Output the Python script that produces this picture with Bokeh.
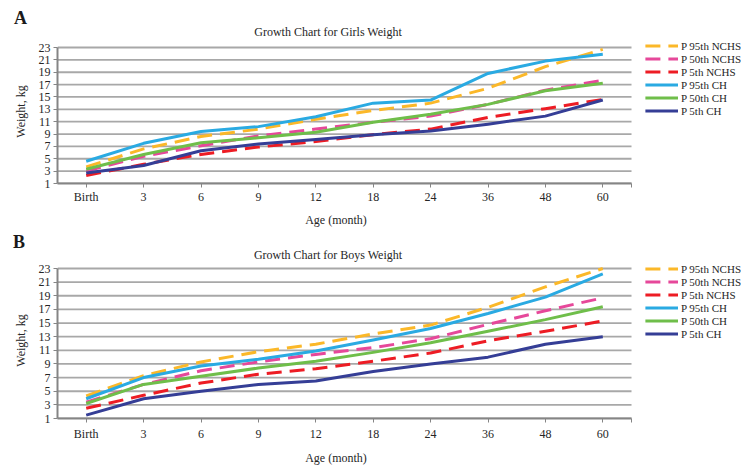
from bokeh.plotting import figure
from bokeh.layouts import column
from bokeh.models import (Legend, LegendItem, FixedTicker, Range1d, ColumnDataSource, Div)
from bokeh.embed import file_html
from bokeh.resources import INLINE

months = ["Birth", "3", "6", "9", "12", "18", "24", "36", "48", "60"]
y_ticks = [1, 3, 5, 7, 9, 11, 13, 15, 17, 19, 21, 23]
series_names = ["P 95th NCHS", "P 50th NCHS", "P 5th NCHS", "P 95th CH", "P 50th CH", "P 5th CH"]

# Girls weight (kg)
g_p95_nchs = [3.7, 6.6, 8.6, 9.8, 11.4, 12.8, 14.0, 16.4, 19.9, 22.7]
g_p50_nchs = [3.0, 5.4, 7.1, 8.7, 9.8, 10.9, 11.9, 13.8, 16.1, 17.7]
g_p5_nchs = [2.3, 4.1, 5.7, 6.9, 7.8, 8.9, 9.8, 11.7, 13.1, 14.6]
g_p95_ch = [4.6, 7.5, 9.4, 10.2, 11.8, 14.0, 14.5, 18.8, 20.8, 21.9]
g_p50_ch = [3.3, 5.7, 7.6, 8.4, 9.3, 10.9, 12.2, 13.8, 16.0, 17.2]
g_p5_ch = [2.7, 3.9, 6.3, 7.4, 8.1, 8.9, 9.5, 10.6, 11.9, 14.5]

# Boys weight (kg)
b_p95_nchs = [4.3, 7.3, 9.3, 10.8, 11.9, 13.4, 14.7, 17.3, 20.3, 23.0]
b_p50_nchs = [3.4, 6.0, 8.0, 9.3, 10.4, 11.4, 12.7, 14.8, 16.8, 18.7]
b_p5_nchs = [2.5, 4.4, 6.2, 7.5, 8.3, 9.4, 10.6, 12.4, 13.8, 15.3]
b_p95_ch = [3.9, 7.0, 8.7, 9.7, 10.9, 12.5, 14.2, 16.4, 18.8, 22.2]
b_p50_ch = [3.2, 6.0, 7.2, 8.4, 9.4, 10.7, 12.1, 13.8, 15.5, 17.4]
b_p5_ch = [1.5, 3.9, 5.0, 6.0, 6.5, 7.9, 9.0, 10.0, 11.9, 13.0]

colors = ["#FBB829", "#E6489A", "#ED1C24", "#2AAAE2", "#6FBE4A", "#353E96"]
dashes = ["15 8", "15 8", "15 8", "solid", "solid", "solid"]

FONT = "Liberation Serif"
TXT = "#262626"
GRID = "#A8A8A8"
AXIS = "#858585"
X_LABEL = "Age (month)"
Y_LABEL = "Weight, kg"

# category slots: each month occupies one unit, centred at index + 0.5
n_cat = len(months)
x_pos = [i + 0.5 for i in range(n_cat)]
CAT_PX = 57.4          # pixel width of one category slot
PLOT_PX = 684          # frame width (plot area + legend area on the right)


def span(text, top, left=None, center=None, size=12, bold=False, lh=14):
    if center is not None:
        pos = f"left:{center - 150}px;width:300px;text-align:center;"
    else:
        pos = f"left:{left}px;"
    weight = "font-weight:bold;color:#1a1a1a;" if bold else ""
    return (f'<span style="position:absolute;top:{top}px;{pos}{weight}'
            f'font-size:{size}px;line-height:{lh}px;white-space:nowrap;">{text}</span>')


def band(height, spans):
    html = (f'<div style="position:relative;width:741px;height:{height}px;'
            f'font-family:\'{FONT}\';color:{TXT};">' + "".join(spans) + '</div>')
    return Div(text=html, width=741, height=height, margin=0)


def make_fig(series, frame_h, y_end, tick_standoff):
    p = figure(frame_width=PLOT_PX, frame_height=frame_h,
               x_range=Range1d(0, PLOT_PX / CAT_PX), y_range=Range1d(1, y_end),
               output_backend="svg", toolbar_location=None,
               min_border_left=57, min_border_right=0,
               min_border_top=0, min_border_bottom=24)
    p.outline_line_color = None

    # horizontal gridlines limited to the category area
    p.xgrid.visible = False
    p.ygrid.visible = False
    p.segment(x0=[0] * len(y_ticks), x1=[n_cat] * len(y_ticks), y0=y_ticks, y1=y_ticks,
              line_color=GRID, line_width=1.8)

    items = []
    for name, vals, col, dash in zip(series_names, series, colors, dashes):
        src = ColumnDataSource(dict(x=x_pos, y=vals))
        r = p.line("x", "y", source=src, line_color=col, line_width=3,
                   line_dash=dash, line_join="round")
        items.append(LegendItem(label=name, renderers=[r]))

    leg = Legend(items=items, location="top_right",
                 border_line_color=None, background_fill_alpha=0,
                 padding=0, margin=0, spacing=0,
                 label_height=13, glyph_height=13, glyph_width=33,
                 label_standoff=3, label_text_font=FONT,
                 label_text_font_size="11px", label_text_color=TXT)
    p.add_layout(leg)

    xax = p.xaxis[0]
    yax = p.yaxis[0]
    xax.ticker = FixedTicker(ticks=x_pos + [n_cat])
    xax.major_label_overrides = {**{x: m for x, m in zip(x_pos, months)}, n_cat: ""}
    xax.bounds = (0, n_cat)
    yax.ticker = FixedTicker(ticks=y_ticks)
    yax.bounds = (y_ticks[0], y_ticks[-1])
    for ax in (xax, yax):
        ax.axis_line_color = AXIS
        ax.axis_line_width = 2
        ax.major_tick_line_color = AXIS
        ax.major_tick_in = 0
        ax.major_tick_out = 4
        ax.minor_tick_line_color = None
        ax.major_label_text_font = FONT
        ax.major_label_text_font_size = "12px"
        ax.major_label_text_color = TXT
        ax.axis_label_text_font = FONT
        ax.axis_label_text_font_size = "12px"
        ax.axis_label_text_font_style = "normal"
        ax.axis_label_text_color = TXT
    xax.major_label_standoff = tick_standoff
    yax.major_label_standoff = 3
    yax.axis_label = Y_LABEL
    yax.axis_label_standoff = 8
    return p


# page rows (px): header 0-39 | girls 39-207 | band 207-262 | boys 262-442 | band 442-467
h1 = band(39, [span("A", 8, left=14, size=18, bold=True, lh=20),
               span("Growth Chart for Girls Weight", 25, center=328)])
p1 = make_fig([g_p95_nchs, g_p50_nchs, g_p5_nchs, g_p95_ch, g_p50_ch, g_p5_ch],
              144, 23 + 8 / (136 / 22), 2)
h2 = band(55, [span(X_LABEL, 6, center=336),
               span("B", 25, left=13, size=18, bold=True, lh=20),
               span("Growth Chart for Boys Weight", 41, center=328)])
p2 = make_fig([b_p95_nchs, b_p50_nchs, b_p5_nchs, b_p95_ch, b_p50_ch, b_p5_ch],
              156, 23 + 6 / (150 / 22), 4)
h3 = band(25, [span(X_LABEL, 8, center=336)])

layout = column(h1, p1, h2, p2, h3, spacing=0)
open("out.html", "w").write(file_html(layout, INLINE))
